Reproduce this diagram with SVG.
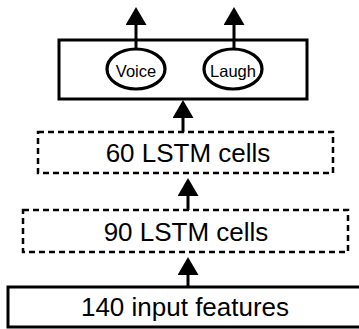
<svg xmlns="http://www.w3.org/2000/svg" width="359" height="329" viewBox="0 0 359 329">
<style>
.box{fill:#fff;stroke:#000;stroke-width:3}
.dash{fill:#fff;stroke:#000;stroke-width:2.5;stroke-dasharray:6 4}
.ell{fill:#fff;stroke:#000;stroke-width:3.2}
.big{font-family:"Liberation Sans",Arial,sans-serif;font-size:26px;fill:#000;text-anchor:middle}
.small{font-family:"Liberation Sans",Arial,sans-serif;font-size:16.5px;fill:#000;text-anchor:middle}
.conn{stroke:#000;stroke-width:3;fill:none;marker-end:url(#ah)}
</style>
<defs>
<marker id="ah" markerUnits="userSpaceOnUse" markerWidth="18" markerHeight="21" viewBox="0 0 18 21" refX="0" refY="10.5" orient="auto">
<path d="M0,0 L18,10.5 L0,21 z" fill="#000"/>
</marker>
</defs>
<g id="output">
<rect class="box" x="59" y="40" width="248" height="59"/>
</g>
<g id="voice">
<ellipse class="ell" cx="136" cy="69" rx="29" ry="20"/>
<text class="small" x="136" y="77">Voice</text>
</g>
<g id="laugh">
<ellipse class="ell" cx="233" cy="69" rx="29" ry="20"/>
<text class="small" x="233" y="77">Laugh</text>
</g>
<g id="lstm60">
<rect class="dash" x="38" y="132" width="295" height="41"/>
<text class="big" x="188" y="162">60 LSTM cells</text>
</g>
<g id="lstm90">
<rect class="dash" x="23" y="210" width="325" height="42"/>
<text class="big" x="186" y="241">90 LSTM cells</text>
</g>
<g id="input">
<rect class="box" x="8" y="287" width="354" height="40"/>
<text class="big" x="185" y="316">140 input features</text>
</g>
<g id="connectors">
<line class="conn" x1="136" y1="49" x2="136" y2="25"/>
<line class="conn" x1="234" y1="49" x2="234" y2="25"/>
<line class="conn" x1="183" y1="132" x2="183" y2="118"/>
<line class="conn" x1="188" y1="210" x2="188" y2="196"/>
<line class="conn" x1="188" y1="287" x2="188" y2="275"/>
</g>
</svg>
